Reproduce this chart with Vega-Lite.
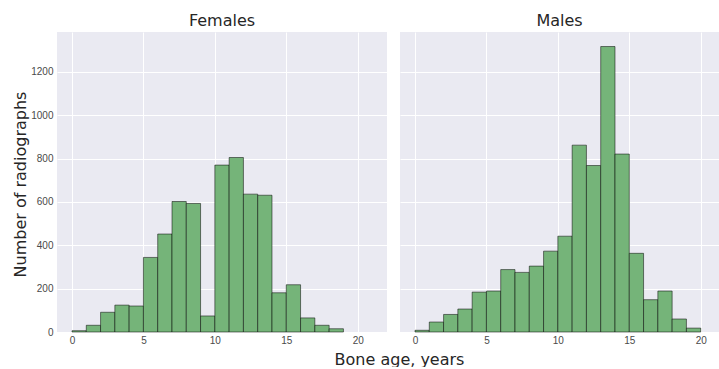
{
  "$schema": "https://vega.github.io/schema/vega-lite/v6.json",
  "padding": {"left": 12, "top": 13, "right": 0, "bottom": 0},
  "background": "white",
  "bounds": "flush",
  "spacing": 13,
  "config": {
    "view": {"fill": "#EAEAF2", "stroke": null},
    "axis": {
      "labelFont": "Liberation Sans",
      "labelFontSize": 10,
      "labelColor": "#4a4a4a",
      "ticks": false,
      "domain": false,
      "gridColor": "#FFFFFF",
      "gridWidth": 1,
      "titleFont": "DejaVu Sans",
      "titleFontSize": 16,
      "titleFontWeight": "normal",
      "titleColor": "#262626"
    },
    "title": {"font": "DejaVu Sans", "fontSize": 16, "fontWeight": "normal", "color": "#262626", "offset": 3}
  },
  "data": {
    "values": [
      {"sex": "Females", "start": 0, "end": 1, "count": 6},
      {"sex": "Females", "start": 1, "end": 2, "count": 31},
      {"sex": "Females", "start": 2, "end": 3, "count": 91},
      {"sex": "Females", "start": 3, "end": 4, "count": 124},
      {"sex": "Females", "start": 4, "end": 5, "count": 120},
      {"sex": "Females", "start": 5, "end": 6, "count": 344},
      {"sex": "Females", "start": 6, "end": 7, "count": 452},
      {"sex": "Females", "start": 7, "end": 8, "count": 602},
      {"sex": "Females", "start": 8, "end": 9, "count": 593},
      {"sex": "Females", "start": 9, "end": 10, "count": 74},
      {"sex": "Females", "start": 10, "end": 11, "count": 770},
      {"sex": "Females", "start": 11, "end": 12, "count": 805},
      {"sex": "Females", "start": 12, "end": 13, "count": 636},
      {"sex": "Females", "start": 13, "end": 14, "count": 631},
      {"sex": "Females", "start": 14, "end": 15, "count": 181},
      {"sex": "Females", "start": 15, "end": 16, "count": 218},
      {"sex": "Females", "start": 16, "end": 17, "count": 65},
      {"sex": "Females", "start": 17, "end": 18, "count": 31},
      {"sex": "Females", "start": 18, "end": 19, "count": 15},
      {"sex": "Males", "start": 0, "end": 1, "count": 8},
      {"sex": "Males", "start": 1, "end": 2, "count": 46},
      {"sex": "Males", "start": 2, "end": 3, "count": 81},
      {"sex": "Males", "start": 3, "end": 4, "count": 106},
      {"sex": "Males", "start": 4, "end": 5, "count": 184},
      {"sex": "Males", "start": 5, "end": 6, "count": 189},
      {"sex": "Males", "start": 6, "end": 7, "count": 288},
      {"sex": "Males", "start": 7, "end": 8, "count": 275},
      {"sex": "Males", "start": 8, "end": 9, "count": 304},
      {"sex": "Males", "start": 9, "end": 10, "count": 373},
      {"sex": "Males", "start": 10, "end": 11, "count": 442},
      {"sex": "Males", "start": 11, "end": 12, "count": 862},
      {"sex": "Males", "start": 12, "end": 13, "count": 768},
      {"sex": "Males", "start": 13, "end": 14, "count": 1317},
      {"sex": "Males", "start": 14, "end": 15, "count": 821},
      {"sex": "Males", "start": 15, "end": 16, "count": 363},
      {"sex": "Males", "start": 16, "end": 17, "count": 149},
      {"sex": "Males", "start": 17, "end": 18, "count": 189},
      {"sex": "Males", "start": 18, "end": 19, "count": 60},
      {"sex": "Males", "start": 19, "end": 20, "count": 18}
    ]
  },
  "hconcat": [
    {
      "title": "Females",
      "width": 330,
      "height": 300,
      "transform": [{"filter": "datum.sex === 'Females'"}],
      "mark": {"type": "bar", "fill": "#75B479", "stroke": "#000000", "strokeOpacity": 0.5, "strokeWidth": 1},
      "encoding": {
        "x": {
          "field": "start", "type": "quantitative",
          "scale": {"domain": [-1.05, 22.05], "nice": false, "zero": false},
          "axis": {"values": [0, 5, 10, 15, 20], "labelPadding": 3, "title": "Bone age, years",
                   "titleX": 342, "titleY": 32, "titleAlign": "center", "titleBaseline": "alphabetic", "titleAnchor": null}
        },
        "x2": {"field": "end"},
        "y": {
          "field": "count", "type": "quantitative",
          "scale": {"domain": [0, 1384], "nice": false},
          "axis": {"values": [0, 200, 400, 600, 800, 1000, 1200], "format": "d", "labelPadding": 4, "title": "Number of radiographs",
                   "titleX": -32, "titleY": 152, "titleAlign": "center", "titleBaseline": "alphabetic", "titleAnchor": null}
        },
        "y2": {"datum": 0}
      }
    },
    {
      "title": "Males",
      "width": 319,
      "height": 300,
      "transform": [{"filter": "datum.sex === 'Males'"}],
      "mark": {"type": "bar", "fill": "#75B479", "stroke": "#000000", "strokeOpacity": 0.5, "strokeWidth": 1},
      "encoding": {
        "x": {
          "field": "start", "type": "quantitative",
          "scale": {"domain": [-1.05, 21.28], "nice": false, "zero": false},
          "axis": {"values": [0, 5, 10, 15, 20], "labelPadding": 3, "title": null}
        },
        "x2": {"field": "end"},
        "y": {
          "field": "count", "type": "quantitative",
          "scale": {"domain": [0, 1384], "nice": false},
          "axis": {"values": [0, 200, 400, 600, 800, 1000, 1200], "labels": false, "title": null}
        },
        "y2": {"datum": 0}
      }
    }
  ]
}
